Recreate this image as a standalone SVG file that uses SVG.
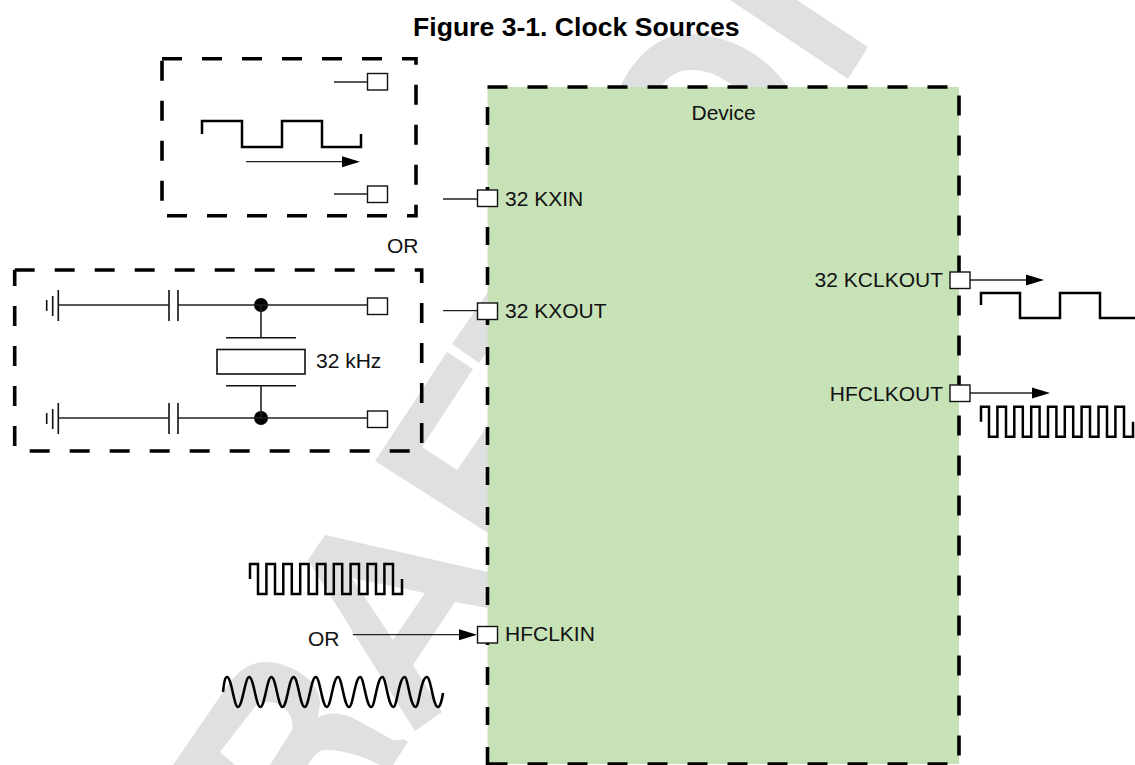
<svg xmlns="http://www.w3.org/2000/svg" width="1135" height="765" viewBox="0 0 1135 765">
<style>
text{font-family:"Liberation Sans",Arial,sans-serif;font-size:21px;fill:#111}
.title{font-weight:bold;font-size:26.6px;fill:#000}
.wm{fill:#dfe0e2;stroke:none}
.dash{fill:none;stroke:#000;stroke-width:3.6;stroke-dasharray:20 20}
.thick{fill:none;stroke:#000;stroke-width:2.5;stroke-linejoin:miter}
.wire{fill:none;stroke:#222;stroke-width:1.3}
.sym{fill:none;stroke:#111;stroke-width:1.6}
.port{fill:#fff;stroke:#111;stroke-width:1.4}
</style>
<defs>
<marker id="arrow" markerUnits="userSpaceOnUse" markerWidth="20" markerHeight="12" refX="15" refY="6" orient="auto"><path d="M0,0.5 L18,6 L0,11.5 Z" fill="#000"/></marker>
<path id="hfwave" d="M250,579V564H258V594H266.4V564H275V594H283.3V564H291.8V594H300.2V564H308.6V594H317V564H325.4V594H333.8V564H342.2V594H350.6V564H359V594H367.5V564H376V594H384.4V564H393V594H402V579"/>
</defs>
<rect width="1135" height="765" fill="#fff"/>
<g id="watermark">
<path class="wm" d="M730,0H797L868,47L848,79Z"/>
<path class="wm" d="M619,89C635,55 660,34 687,34C725,34 765,52 789,89H736C725,78 710,70 690,70C678,70 668,76 659,89Z"/>
<path class="wm" d="M488,292L452,344L479,363L488,350Z"/>
<path class="wm" d="M447,352L473,369L422,447L457,470L488,425V533L375,461Z"/>
<path class="wm" d="M325,535L488,572V608L455,602L413,665L442,712L415,731L308,560ZM352,578L393,640L425,593Z" fill-rule="evenodd"/>
<path class="wm" d="M173,765L223,692C235,672 250,662 265,662C290,662 320,680 320,703L318,718C325,712 340,712 353,718L393,740Q400,741 403,739L408,742L393,765H380C365,757 345,750 325,750C318,750 313,757 308,765H270L292,730C295,718 285,702 268,702C262,702 260,702 258,703L220,752L235,765Z"/>
</g>
<text class="title" x="413" y="35.5">Figure 3-1. Clock Sources</text>
<g id="device">
<rect x="487.5" y="87" width="471.5" height="677" fill="#c8e2b8"/>
<path class="dash" d="M487.5,87H959V764H487.5"/>
<path class="dash" style="stroke-dasharray:18 22" d="M487.5,765V87"/>
<text x="691.5" y="120">Device</text>
</g>
<g id="oscillator-box">
<path class="dash" d="M162,58.7H416V215.7H162V58.7"/>
<path class="thick" d="M202,134V121H242V147H282V121H322V147H361V134"/>
<rect class="port" x="367.5" y="73.5" width="20" height="16.5"/>
<rect class="port" x="367.5" y="186" width="20" height="16.5"/>
</g>
<g id="crystal-box">
<path class="dash" d="M14.7,270H421.7V451H14.7V270"/>
<path class="sym" d="M46.7,300V311M52.7,296V316M58.3,290V321M169,290V321M178,290V321"/>
<path class="sym" d="M46.7,413V424M52.7,409V429M58.3,403V434M169,403V434M178,403V434"/>
<path class="sym" d="M226,337.7H296M226,385.7H296"/>
<rect x="217" y="349.5" width="88" height="24.5" fill="#fff" stroke="#111" stroke-width="1.6"/>
<circle cx="261" cy="305" r="7" fill="#000"/>
<circle cx="261" cy="418" r="7" fill="#000"/>
<text x="316" y="368">32 kHz</text>
<rect class="port" x="367.5" y="298" width="20" height="16.5"/>
<rect class="port" x="367.5" y="411" width="20" height="16.5"/>
</g>
<g id="connectors">
<path class="wire" d="M334,82H367.5M334,194H367.5M443,199H477M443,310.7H477"/>
<path class="wire" d="M58,305H169M178,305H367.5M58,418H169M178,418H367.5"/>
<path class="wire" style="stroke-width:1.6" d="M261,305V337.7M261,385.7V418"/>
<path class="wire" marker-end="url(#arrow)" d="M246,161.7H357"/>
<path class="wire" marker-end="url(#arrow)" d="M970,280H1041"/>
<path class="wire" marker-end="url(#arrow)" d="M970,393H1047"/>
<path class="wire" marker-end="url(#arrow)" d="M353,634.7H474"/>
</g>
<g id="port-32kxin"><rect class="port" x="477.5" y="190" width="20" height="16.5"/><text x="505" y="206">32 KXIN</text></g>
<g id="port-32kxout"><rect class="port" x="477.5" y="303" width="20" height="16.5"/><text x="505" y="318">32 KXOUT</text></g>
<g id="port-hfclkin"><rect class="port" x="477.5" y="626.5" width="20" height="16.5"/><text x="505" y="641">HFCLKIN</text></g>
<g id="port-32kclkout"><rect class="port" x="950" y="272" width="20" height="16.5"/><text x="943" y="287" text-anchor="end">32 KCLKOUT</text></g>
<g id="port-hfclkout"><rect class="port" x="950" y="385" width="20" height="16.5"/><text x="943" y="400.5" text-anchor="end">HFCLKOUT</text></g>
<g id="signals">
<text x="387" y="252.5">OR</text>
<text x="308" y="646">OR</text>
<use href="#hfwave" class="thick"/>
<use href="#hfwave" class="thick" transform="translate(731,-157.3)"/>
<path class="thick" d="M981,305V293H1020V318H1060V293H1100V318H1135"/>
<path class="thick" d="M223,692C224,683 225,677 227,677C231.5,677 234,707 238,707C242.5,707 245,677 249.2,677C253.7,677 256,707 260.3,707C264.8,707 267,677 271.4,677C275.9,677 278,707 282.5,707C287,707 289,677 293.6,677C298,677 300,707 304.7,707C309,707 311,677 315.8,677C320,677 322,707 326.9,707C331,707 333,677 338,677C342,677 344,707 349.1,707C353,707 355,677 360.2,677C364,677 366,707 371.3,707C375,707 377,677 382.4,677C386,677 388,707 393.5,707C397,707 399,677 404.6,677C408,677 410,707 415.7,707C419,707 421,677 426.8,677C431,677 433,707 437.9,707C440,707 442,700 443,693"/>
</g>
</svg>
